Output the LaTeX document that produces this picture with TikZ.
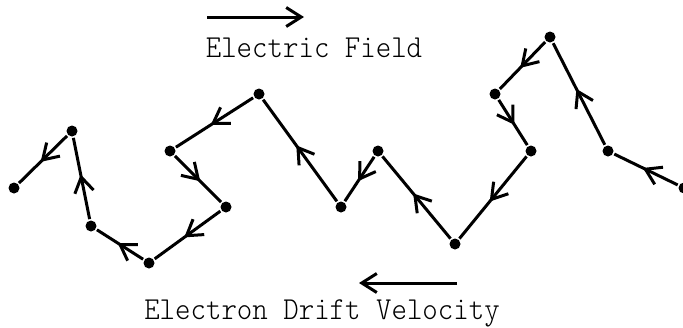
\documentclass[tikz,border=0pt]{standalone}
\usepackage{fontspec}
\newfontfamily\labelfont[FakeStretch=0.92]{lmmonolt10-regular.otf}
\usetikzlibrary{arrows.meta,decorations.markings}
\begin{document}
\begin{tikzpicture}
      [x=1pt, y=-1pt, line width=3pt,
       dot/.style={circle,fill,inner sep=0pt,minimum size=11pt},
       barb/.style={-{Straight Barb[length=15pt,width=19pt]}},
       hop/.style={postaction={decorate},decoration={markings,
         mark=at position 0.55 with {\arrow{Straight Barb[length=15pt,width=19pt]}}}},
       label text/.style={font=\labelfont\fontsize{32}{36}\selectfont,anchor=base}]
      \useasboundingbox (0,0) rectangle (683,327);

      % collision points
      \foreach \n/\x/\y in {1/14/188, 2/72/131, 3/91/226, 4/149/263, 5/226/207,
                            6/170/151, 7/259/94, 8/341/207, 9/378/151, 10/455/244,
                            11/531/151, 12/495/94, 13/550/37, 14/608/151, 15/684/188}
         \node[dot] (p\n) at (\x,\y) {};

      % path of the electron
      \foreach \a/\b in {15/14, 14/13, 13/12, 12/11, 11/10, 10/9, 9/8, 8/7,
                         7/6, 6/5, 5/4, 4/3, 3/2, 2/1}
         \draw[hop] (p\a) -- (p\b);

      \coordinate (field start) at (207,17);
      \coordinate (field end) at (304,17);
      \draw[barb] (field start) -- (field end);
      \node[label text] (field) at (314,57) {Electric Field};

      \coordinate (drift start) at (457,283);
      \coordinate (drift end) at (359,283);
      \draw[barb] (drift start) -- (drift end);
      \node[label text] (drift) at (322,319) {Electron Drift Velocity};
\end{tikzpicture}
\end{document}
